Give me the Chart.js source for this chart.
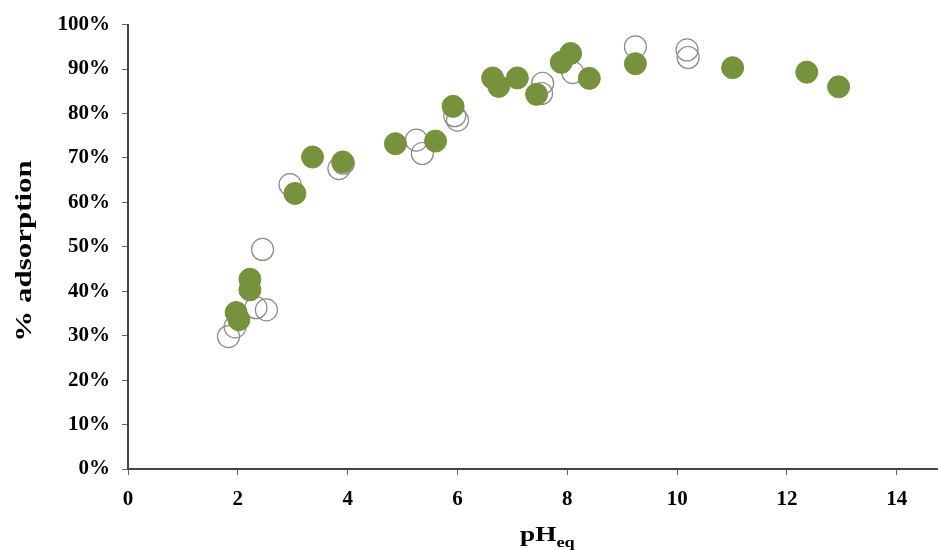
<!DOCTYPE html>
<html>
<head>
<meta charset="utf-8">
<script src="https://cdn.jsdelivr.net/npm/chart.js@4/dist/chart.umd.min.js"></script>
<style>
html,body{margin:0;padding:0;background:#fff;}
#wrap{width:938px;height:550px;position:relative;}
</style>
</head>
<body>
<div id="wrap"><canvas id="c" width="938" height="550"></canvas></div>
<script>
const filledX = [1.97, 2.02, 2.22, 2.22, 3.04, 3.36, 3.91, 4.87, 5.60, 5.92, 6.64, 6.75, 7.09, 7.44, 7.89, 8.06, 8.40, 9.24, 11.01, 12.36, 12.94];
const filledY = [35.2, 33.6, 42.7, 40.3, 62.0, 70.2, 69.1, 73.2, 73.8, 81.6, 88.0, 86.1, 88.0, 84.3, 91.5, 93.5, 87.9, 91.2, 90.3, 89.3, 86.0];
const openX = [1.83, 1.95, 2.33, 2.52, 2.45, 2.95, 3.84, 3.92, 5.25, 5.36, 5.95, 6.00, 7.55, 7.53, 8.10, 9.24, 10.18, 10.20];
const openY = [29.8, 32.0, 36.3, 35.8, 49.4, 64.0, 67.6, 68.8, 74.0, 71.0, 79.5, 78.5, 86.8, 84.5, 89.2, 95.0, 94.3, 92.6];
const xTicks = [0, 2, 4, 6, 8, 10, 12, 14];
const yTicks = [0, 10, 20, 30, 40, 50, 60, 70, 80, 90, 100];

const toPts = (xs, ys) => xs.map((x, i) => ({x: x, y: ys[i]}));

const titlePlugin = {
  id: 'titles',
  afterDraw(chart) {
    const ctx = chart.ctx;
    ctx.save();
    ctx.fillStyle = '#000';
    ctx.font = 'bold 24px "Liberation Serif"';
    ctx.textAlign = 'center';
    ctx.textBaseline = 'middle';
    ctx.translate(25, 251);
    ctx.rotate(-Math.PI / 2);
    ctx.scale(1.29, 1);
    ctx.fillText('% adsorption', 0, 0);
    ctx.restore();

    ctx.save();
    ctx.fillStyle = '#000';
    ctx.textBaseline = 'alphabetic';
    ctx.textAlign = 'left';
    ctx.translate(520, 0);
    ctx.scale(1.3, 1);
    ctx.font = 'bold 21px "Liberation Serif"';
    const w1 = ctx.measureText('pH').width;
    ctx.fillText('pH', 0, 541);
    ctx.font = 'bold 14px "Liberation Serif"';
    ctx.fillText('eq', w1, 547);
    ctx.restore();
  }
};

new Chart(document.getElementById('c'), {
  type: 'scatter',
  data: {
    datasets: [
      {
        label: 'open',
        data: toPts(openX, openY),
        pointRadius: 11,
        pointHoverRadius: 11,
        pointBackgroundColor: 'rgba(255,255,255,0)',
        pointBorderColor: '#8a8a8a',
        pointBorderWidth: 1.2,
        order: 2
      },
      {
        label: 'filled',
        data: toPts(filledX, filledY),
        pointRadius: 11,
        pointHoverRadius: 11,
        pointBackgroundColor: '#76923c',
        pointBorderColor: '#76923c',
        pointBorderWidth: 1,
        order: 1
      }
    ]
  },
  options: {
    responsive: false,
    animation: false,
    clip: false,
    layout: {autoPadding: false, padding: {top: 24, left: 0, right: 0, bottom: 0}},
    plugins: {legend: {display: false}, tooltip: {enabled: false}},
    scales: {
      x: {
        type: 'linear',
        min: 0,
        max: 14.75,
        afterBuildTicks(scale) { scale.ticks = xTicks.map(v => ({value: v})); },
        afterFit(scale) { scale.height = 81; scale.paddingRight = 0; scale.paddingLeft = 0; },
        ticks: {
          color: '#000',
          font: {family: '"Liberation Serif"', size: 21, weight: 'bold'},
          padding: 12,
          maxRotation: 0,
          autoSkip: false
        },
        grid: {drawOnChartArea: false, drawTicks: true, tickLength: 6, color: '#666', lineWidth: 1},
        border: {color: '#444', width: 2}
      },
      y: {
        type: 'linear',
        min: 0,
        max: 100,
        afterBuildTicks(scale) { scale.ticks = yTicks.map(v => ({value: v})); },
        afterFit(scale) { scale.width = 128; },
        ticks: {
          color: '#000',
          font: {family: '"Liberation Serif"', size: 21, weight: 'bold'},
          padding: 12,
          callback: v => v + '%'
        },
        grid: {drawOnChartArea: false, drawTicks: true, tickLength: 6, color: '#666', lineWidth: 1},
        border: {color: '#444', width: 2}
      }
    }
  },
  plugins: [titlePlugin]
});
</script>
</body>
</html>
